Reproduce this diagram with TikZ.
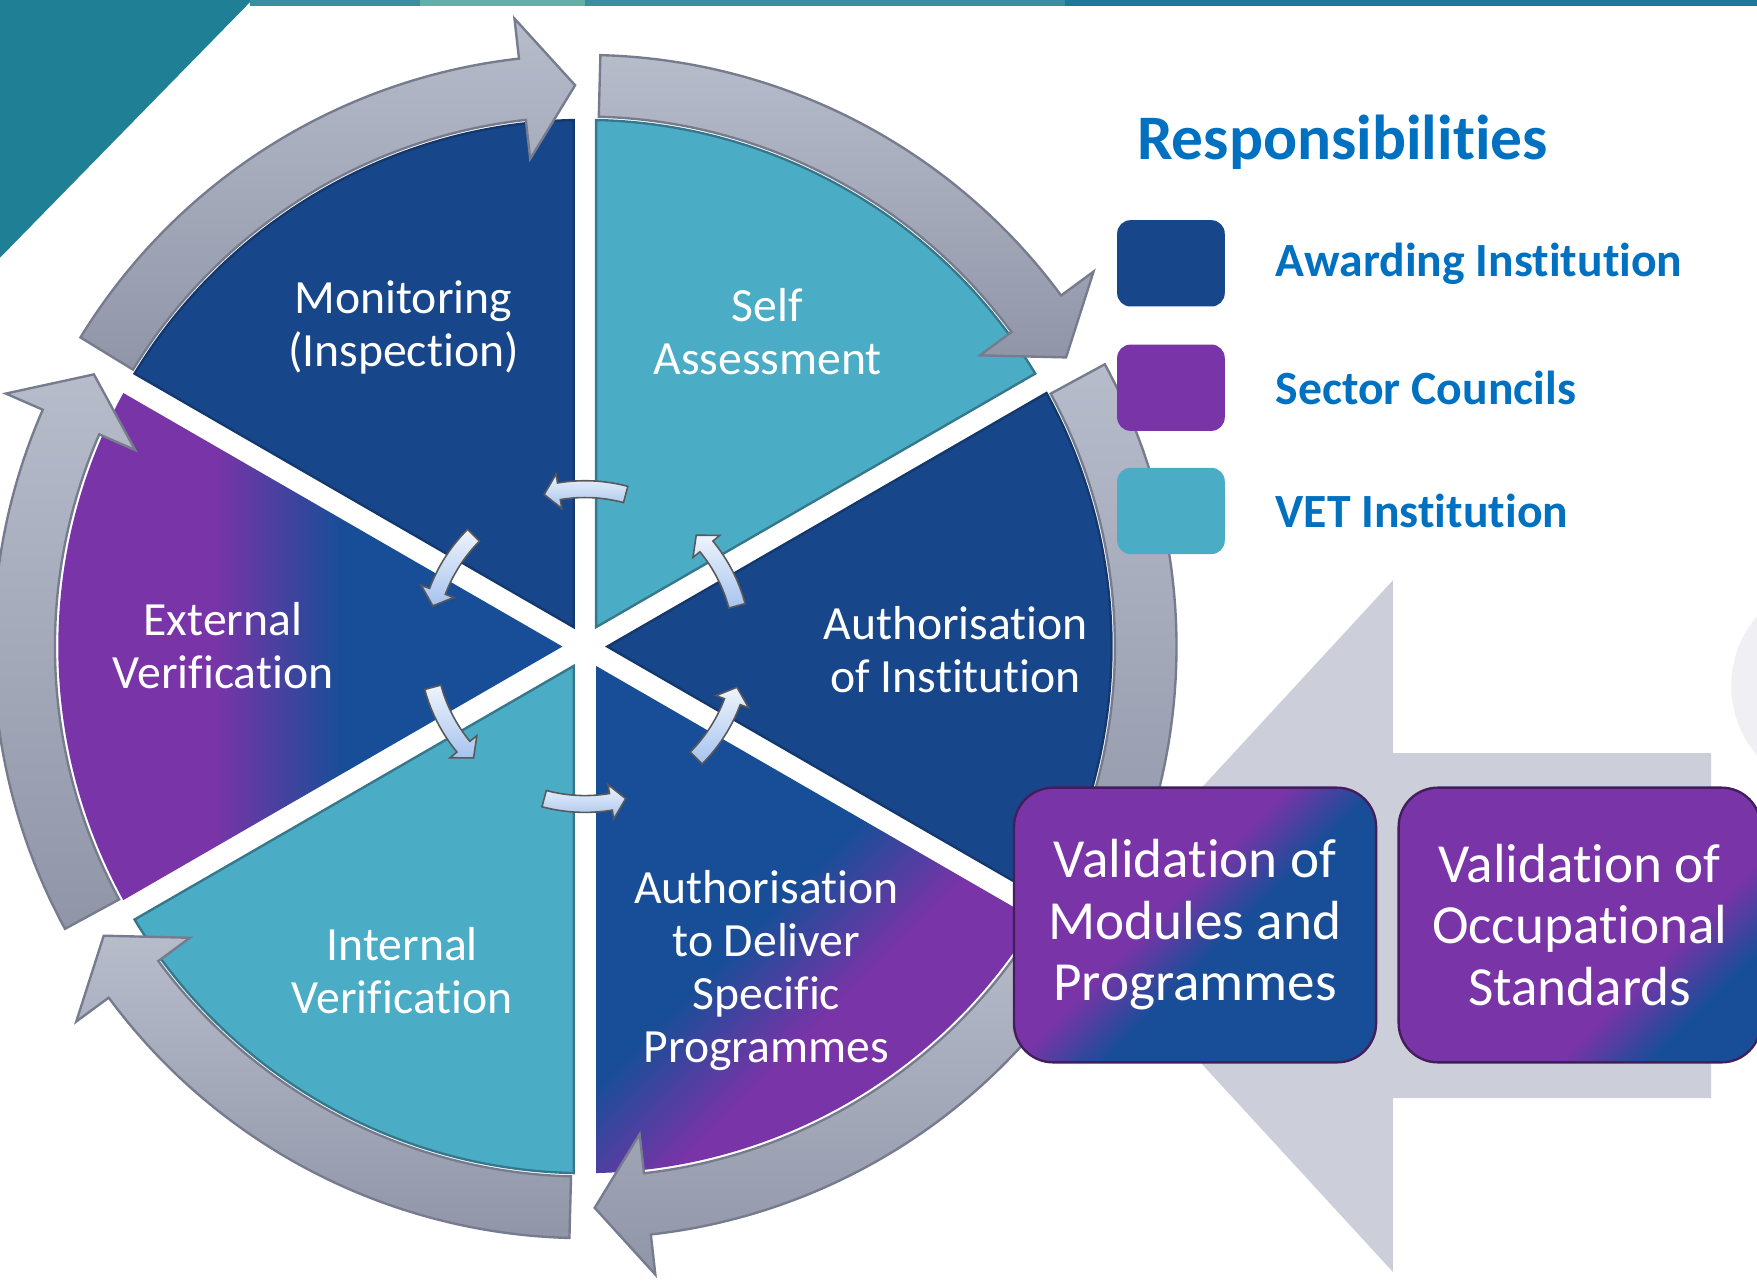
\documentclass[tikz,border=0pt]{standalone}
\usepackage{fontspec}
\setmainfont{Carlito}[Ligatures = {NoCommon}]
\usepackage{tikz}
\usetikzlibrary{positioning, shapes}

\definecolor{awardblue}{HTML}{17468A}
\definecolor{shadeblue}{HTML}{184E97}
\definecolor{councilpurple}{HTML}{7934A8}
\definecolor{vetcyan}{HTML}{4BACC6}
\definecolor{titleblue}{HTML}{0070C0}
\definecolor{ringlight}{HTML}{B7BCCB}
\definecolor{ringdark}{HTML}{9096A8}
\definecolor{ringedge}{HTML}{767C8E}
\definecolor{backarrow}{HTML}{CCCFD9}
\definecolor{faintgray}{HTML}{F0F0F4}
\definecolor{cornerteal}{HTML}{1E7F95}
\definecolor{barteal}{HTML}{3A8F9F}
\definecolor{barlight}{HTML}{5FB0A8}
\definecolor{bardark}{HTML}{1B7A98}
\definecolor{turnlight}{HTML}{EEF4FC}
\definecolor{turndark}{HTML}{A6C3EE}

\pgfdeclarehorizontalshading{externalshade}{100bp}{color(0bp)=(councilpurple); color(42bp)=(councilpurple); color(54bp)=(shadeblue); color(100bp)=(shadeblue)}
\pgfdeclarehorizontalshading{deliveryshade}{100bp}{color(0bp)=(shadeblue); color(46bp)=(shadeblue); color(58bp)=(councilpurple); color(100bp)=(councilpurple)}
\pgfdeclarehorizontalshading{moduleshade}{100bp}{color(0bp)=(councilpurple); color(45bp)=(councilpurple); color(55bp)=(shadeblue); color(100bp)=(shadeblue)}
\pgfdeclarehorizontalshading{standardshade}{100bp}{color(0bp)=(councilpurple); color(63bp)=(councilpurple); color(73bp)=(shadeblue); color(100bp)=(shadeblue)}

\tikzset{
    sectortext/.style = {align = center, text = white, inner sep = 0, font = \fontsize{12.1}{13.4}\selectfont},
    ringarrow/.style = {top color = ringlight, bottom color = ringdark, draw = ringedge, line width = 0.6pt},
    turnarrow/.style = {top color = turnlight, bottom color = turndark, draw = black!65, line width = 0.4pt},
    keybox/.style = {minimum width = 0.96cm, minimum height = 0.77cm, rounded corners = 0.12cm, inner sep = 0},
    keylabel/.style = {inner sep = 0, text = titleblue, font = \fontsize{12.1}{13.4}\selectfont\bfseries},
    valbox/.style = {shade, shading angle = -45, rounded corners = 0.35cm, minimum width = 3.23cm, minimum height = 2.45cm,
        inner sep = 0, align = center, text = white, draw = councilpurple!55!black, line width = 0.6pt,
        font = \fontsize{14}{15.6}\selectfont}
}

\begin{document}
\begin{tikzpicture}[x = 0.01cm, y = 0.01cm]
            \useasboundingbox (-522, -567) rectangle (1046, 577);
            \fill[white] (-522, -567) rectangle (1046, 577);
            \coordinate (origin) at (0, 0);
            
            \fill[cornerteal] (-522, 577) -- (-297, 577) -- (-522, 347) -- cycle;
            \fill[barteal] (-299, 572) rectangle (-147, 577);
            \fill[barlight] (-147, 572) rectangle (0, 577);
            \fill[barteal] (0, 572) rectangle (428, 577);
            \fill[bardark] (428, 572) rectangle (1046, 577);
            
            \fill[faintgray] (1118, -35) circle[radius = 95];
            \fill[backarrow] (437, -249) -- (721, 59) -- (721, -95) -- (1005, -95) -- (1005, -403) -- (721, -403) -- (721, -558) -- cycle;
            
            \filldraw[fill = vetcyan, draw = vetcyan!70!black, line width = 0.6pt] (60:20) -- (31.22:470) arc[start angle = 31.22, end angle = 88.78, radius = 470] -- cycle;
            \filldraw[fill = awardblue, draw = awardblue!80!black, line width = 0.6pt] (0:20) -- (-28.78:470) arc[start angle = -28.78, end angle = 28.78, radius = 470] -- cycle;
            \shade[shading = deliveryshade, shading angle = -45] (-60:20) -- (-88.78:470) arc[start angle = -88.78, end angle = -31.22, radius = 470] -- cycle;
            \filldraw[fill = vetcyan, draw = vetcyan!70!black, line width = 0.6pt] (-120:20) -- (-148.78:470) arc[start angle = -148.78, end angle = -91.22, radius = 470] -- cycle;
            \shade[shading = externalshade] (180:20) -- (151.22:470) arc[start angle = 151.22, end angle = 208.78, radius = 470] -- cycle;
            \filldraw[fill = awardblue, draw = awardblue!80!black, line width = 0.6pt] (120:20) -- (91.22:470) arc[start angle = 91.22, end angle = 148.78, radius = 470] -- cycle;
            
            \foreach \s in {150, 90, 30, -30, -90, -150} {
                \shadedraw[ringarrow] ({\s-1.5}:473) arc[start angle = \s-1.5, end angle = \s-53.6, radius = 473]
                    -- ({\s-53.6}:438) -- ({\s-59}:501) -- ({\s-53.6}:564) -- ({\s-53.6}:528)
                    arc[start angle = \s-53.6, end angle = \s-1.5, radius = 528] -- cycle;
            }
            
            \foreach \b in {90, 30, -30, -90, -150, 150} {
                \shadedraw[turnarrow] ({\b-15}:133) arc[start angle = \b-15, end angle = \b+9.5, radius = 133]
                    -- ({\b+9.5}:125) -- ({\b+15}:140.5) -- ({\b+9.5}:156) -- ({\b+9.5}:148)
                    arc[start angle = \b+9.5, end angle = \b-15, radius = 148] -- cycle;
            }
            
            \node[sectortext] (monitoring) at (-162, 285) {Monitoring\\(Inspection)};
            \node[sectortext] (selfassess) at (163, 281) {Self\\Assessment};
            \node[sectortext] (authinst) at (331, -3) {Authorisation\\of Institution};
            \node[sectortext] (authdeliver) at (162, -289) {Authorisation\\to Deliver\\Specific\\Programmes};
            \node[sectortext] (internal) at (-163, -289) {Internal\\Verification};
            \node[sectortext] (external) at (-323, 1) {External\\Verification};
            
            \node[inner sep = 0, text = titleblue, font = \fontsize{16.1}{18}\selectfont\bfseries] (resp) at (676, 450) {Responsibilities};
            \node[keybox, fill = awardblue] (keyaward) at (523, 342) {};
            \node[keybox, fill = councilpurple] (keycouncil) at (523, 231) {};
            \node[keybox, fill = vetcyan] (keyvet) at (523, 121) {};
            \node[keylabel, right = 0.44cm of keyaward] (labaward) {Awarding Institution};
            \node[keylabel, right = 0.44cm of keycouncil] (labcouncil) {Sector Councils};
            \node[keylabel, right = 0.44cm of keyvet] (labvet) {VET Institution};
            
            \node[valbox, shading = moduleshade] (valmod) at (544.5, -248.5) {Validation of\\Modules and\\Programmes};
            \node[valbox, shading = standardshade, right = 0.18cm of valmod] (valocc) {Validation of\\Occupational\\Standards};
        \end{tikzpicture}
\end{document}
